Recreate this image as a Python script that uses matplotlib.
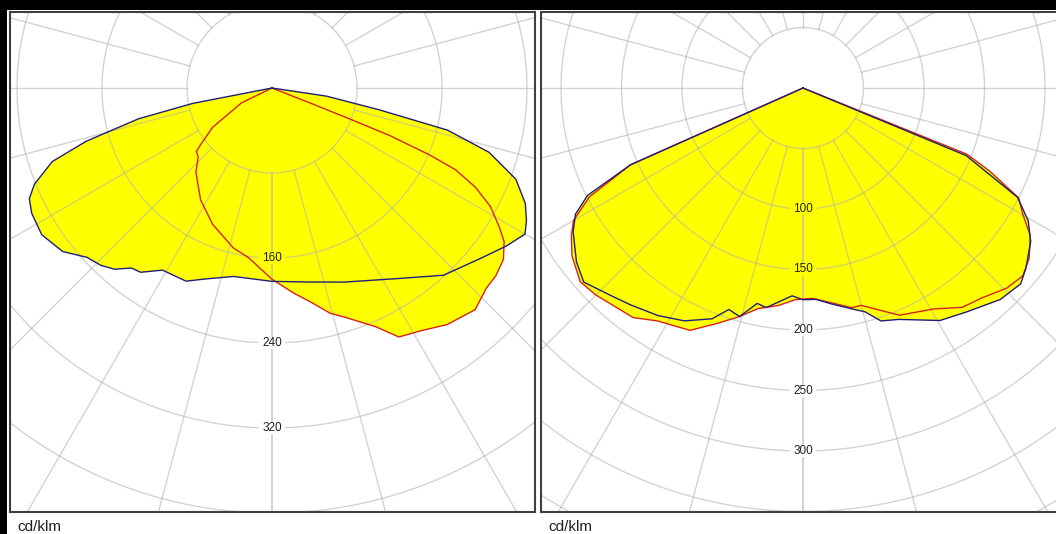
import numpy as np
import matplotlib
matplotlib.use('Agg')
import matplotlib.pyplot as plt
from matplotlib.patches import Rectangle

# gamma angles (deg, 0 = straight down, negative = left) and intensities in cd/klm
# left diagram: C0-C180 (blue) and C90-C270 (red)
left_c0_gamma = [-90, -79, -77, -74, -71.5, -68, -65.5, -62.5, -57.5, -52, -47.5, -44, -41, -38, -35.5, -31,
                 -24, -19, -11.5, 0, 11, 20.5, 33, 42.5, 51, 56, 60, 62.5, 65.5, 69.5, 73.5, 76.5, 78.5, 81.5, 90]
left_c0_int = [0, 76, 129, 182, 218, 241, 251, 255, 257, 250, 236, 232, 226, 215, 213, 200,
               199, 190, 181, 182, 186, 195, 214, 239, 254, 266, 275, 270, 262, 245, 213, 170, 103, 52, 0]

left_c90_gamma = [-90, -64, -56.5, -51.5, -50, -47, -42, -32.5, -23.5, -13.5, -8, 0, 6, 10, 14.5, 17.5,
                  23.5, 27, 31.5, 36.5, 42.5, 47, 50, 53.5, 56.5, 58.5, 61.5, 64, 66, 67, 68, 68.3, 68.5, 90]
left_c90_int = [0, 32, 67, 86, 93, 95, 107, 125, 140, 155, 161, 180, 194, 204, 219, 226,
                245, 263, 268, 277, 283, 276, 275, 271, 262, 251, 234, 213, 189, 161, 120, 79, 38, 0]

# right diagram
right_c0_gamma = [-90, -66, -63.5, -61, -58, -52.5, -48.5, -43, -38.5, -32.5, -27, -21.5, -18.5, -15.5, -12, -9.5,
                  -3, 0, 3.5, 7.5, 12.5, 15.5, 18.5, 22.5, 30.5, 36, 43, 48, 51, 56, 59.5, 63, 67.5, 90]
right_c0_int = [0, 156, 199, 215, 224, 236, 242, 234, 229, 223, 216, 205, 193, 196, 182, 184,
                172, 175, 175, 180, 187, 192, 203, 207, 223, 229, 239, 242, 237, 227, 216, 199, 146, 0]

right_c90_gamma = [-90, -66, -63, -60, -57.5, -54, -49, -45, -36.5, -32, -25, -20, -15.5, -11.5, -6.5, -2,
                   2.5, 7.5, 12.5, 15, 23, 30.5, 36, 40.5, 45.5, 49.5, 53, 57, 60, 63, 66, 68, 90]
right_c90_int = [0, 156, 198, 219, 227, 236, 244, 242, 236, 227, 221, 207, 196, 186, 181, 175,
                 174, 179, 186, 186, 204, 212, 224, 228, 236, 239, 234, 224, 210, 200, 169, 146, 0]

left_rings = [80, 160, 240, 320, 400, 480, 560, 640]
left_labels = [160, 240, 320]
right_rings = [50, 100, 150, 200, 250, 300, 350, 400, 450, 500]
right_labels = [100, 150, 200, 250, 300]

W, H = 1056, 534
grid_col = '#b0b0b0'
grid_alpha = 0.55
blue = '#1f1f7a'
red = '#d42318'


def to_xy(gamma, inten):
    g = np.radians(gamma)
    i = np.asarray(inten, dtype=float)
    return i * np.sin(g), -i * np.cos(g)


def draw_diagram(ax, rings, labels, curves, px):
    step, big = rings[0], rings[-1]
    for g, i, c in curves:
        x, y = to_xy(g, i)
        ax.fill(x, y, color='#ffff00', lw=0, zorder=1)

    gap_w = 14 / px
    gap_h = 7 / px
    for r in rings:
        if r in labels:
            a = gap_w / r
            t = np.linspace(-np.pi / 2 + a, 3 * np.pi / 2 - a, 720)
        else:
            t = np.linspace(0, 2 * np.pi, 720)
        ax.plot(r * np.cos(t), r * np.sin(t), color=grid_col, lw=1, alpha=grid_alpha, zorder=2)

    for ang in range(15, 360, 15):
        a = np.radians(ang)
        ax.plot([step * np.sin(a), big * np.sin(a)], [-step * np.cos(a), -big * np.cos(a)],
                color=grid_col, lw=1, alpha=grid_alpha, zorder=2)
    # straight down line, broken at the labels
    start = step
    for lab in labels:
        ax.plot([0, 0], [-start, -(lab - gap_h)], color=grid_col, lw=1.4, alpha=grid_alpha, zorder=2)
        start = lab + gap_h
    ax.plot([0, 0], [-start, -big], color=grid_col, lw=1.4, alpha=grid_alpha, zorder=2)

    for lab in labels:
        ax.text(0, -lab, str(lab), ha='center', va='center', fontsize=8.5,
                family='Liberation Sans', color='#202020', zorder=5)

    for g, i, c in curves[::-1]:
        x, y = to_xy(g, i)
        ax.plot(x, y, color=c, lw=1, zorder=4)

    ax.set_xticks([])
    ax.set_yticks([])
    for sp in ax.spines.values():
        sp.set_color('#404040')
        sp.set_linewidth(1.5)


def add_panel(fig, x0, x1, cx, cy, px):
    # box from pixel x0..x1, y 12..512, polar centre at (cx, cy)
    ax = fig.add_axes([x0 / W, (H - 512) / H, (x1 - x0) / W, 500 / H])
    ax.set_xlim((x0 - cx) / px, (x1 - cx) / px)
    ax.set_ylim(-(512 - cy) / px, (cy - 12) / px)
    return ax


fig = plt.figure(figsize=(W / 100, H / 100), dpi=100)
fig.patch.set_facecolor('white')
fig.add_artist(Rectangle((0, 1 - 10 / H), 1, 10 / H, transform=fig.transFigure,
                         facecolor='black', edgecolor='none'))
fig.add_artist(Rectangle((0, 0), 7 / W, 1, transform=fig.transFigure,
                         facecolor='black', edgecolor='none'))

px_left = 85 / 80
ax1 = add_panel(fig, 10, 535, 272, 88, px_left)
draw_diagram(ax1, left_rings, left_labels,
             [(left_c0_gamma, left_c0_int, blue), (left_c90_gamma, left_c90_int, red)], px_left)

px_right = 60.5 / 50
ax2 = add_panel(fig, 541, 1060, 803, 88, px_right)
draw_diagram(ax2, right_rings, right_labels,
             [(right_c0_gamma, right_c0_int, blue), (right_c90_gamma, right_c90_int, red)], px_right)

fig.text(17 / W, 1 - 527 / H, 'cd/klm', va='center', ha='left', fontsize=11,
         family='Liberation Sans', color='#202020')
fig.text(548 / W, 1 - 527 / H, 'cd/klm', va='center', ha='left', fontsize=11,
         family='Liberation Sans', color='#202020')

fig.savefig('out.png', dpi=100)
